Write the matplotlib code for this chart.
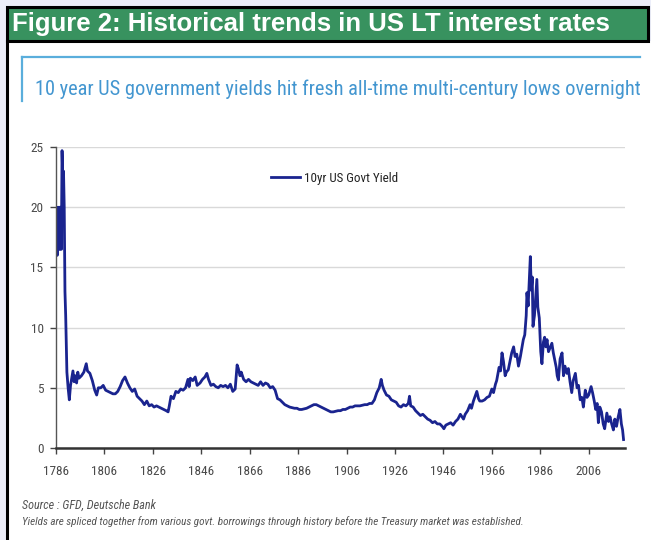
import matplotlib
matplotlib.use("Agg")
import matplotlib.pyplot as plt
from matplotlib import font_manager
from matplotlib.patches import Rectangle
from matplotlib.lines import Line2D

# 10yr US government yield (%), spliced history
years = [
    1786.0, 1786.3, 1786.5, 1786.8, 1787.0, 1787.3, 1787.6, 1787.9, 1788.2, 1788.5,
    1788.8, 1789.1, 1789.4, 1789.7, 1790.0, 1790.5, 1791.0, 1791.5, 1792.0, 1792.5,
    1793.0, 1793.5, 1794.0, 1794.5, 1795.0, 1795.5, 1796.5, 1797.5, 1798.5, 1799.0,
    1800.0, 1801.0, 1802.0, 1802.8, 1803.5, 1804.5, 1805.5, 1806.5, 1807.5, 1808.5,
    1809.5, 1810.5, 1811.5, 1812.5, 1813.5, 1814.5, 1815.5, 1816.5, 1817.5, 1818.5,
    1819.5, 1820.5, 1821.5, 1822.5, 1823.5, 1824.5, 1825.5, 1826.5, 1827.5, 1828.5,
    1829.5, 1830.5, 1831.5, 1832.3, 1832.8, 1833.5, 1834.5, 1835.5, 1836.5, 1837.5,
    1838.5, 1839.5, 1840.5, 1841.0, 1841.5, 1842.5, 1843.5, 1844.3, 1845.5, 1846.5,
    1847.5, 1848.3, 1849.0, 1850.0, 1851.0, 1852.0, 1853.0, 1854.0, 1855.0, 1856.0,
    1857.0, 1858.0, 1859.0, 1860.0, 1860.8, 1861.3, 1862.0, 1862.5, 1863.5, 1864.5,
    1865.5, 1866.5, 1867.5, 1868.5, 1869.5, 1870.5, 1871.5, 1872.5, 1873.5, 1874.5,
    1875.5, 1876.5, 1877.5, 1878.5, 1879.5, 1880.5, 1881.5, 1882.5, 1883.5, 1884.5,
    1885.5, 1886.5, 1887.5, 1888.5, 1889.5, 1890.5, 1891.5, 1892.5, 1893.5, 1894.5,
    1895.5, 1896.5, 1897.5, 1898.5, 1899.5, 1900.5, 1901.5, 1902.5, 1903.5, 1904.5,
    1905.5, 1906.5, 1907.5, 1908.5, 1909.5, 1910.5, 1911.5, 1912.5, 1913.5, 1914.5,
    1915.5, 1916.5, 1917.5, 1918.5, 1919.5, 1920.3, 1920.8, 1921.5, 1922.5, 1923.5,
    1924.5, 1925.5, 1926.5, 1927.5, 1928.5, 1929.5, 1930.5, 1931.5, 1932.0, 1932.5,
    1933.5, 1934.5, 1935.5, 1936.5, 1937.5, 1938.5, 1939.5, 1940.5, 1941.5, 1942.5,
    1943.5, 1944.5, 1945.5, 1946.2, 1947.0, 1948.0, 1949.0, 1950.0, 1951.0, 1952.0,
    1953.0, 1954.3, 1955.0, 1956.0, 1957.0, 1957.6, 1958.4, 1959.8, 1960.5, 1961.0,
    1962.0, 1963.0, 1964.0, 1965.0, 1966.0, 1966.7, 1967.5, 1968.0, 1969.0, 1969.6,
    1970.2, 1970.8, 1971.5, 1972.0, 1972.8, 1973.5, 1974.2, 1975.0, 1975.6, 1976.3,
    1977.0, 1977.8, 1978.5, 1979.0, 1979.6, 1980.2, 1980.5, 1981.0, 1981.5, 1981.9,
    1982.3, 1982.7, 1983.0, 1983.6, 1984.2, 1984.6, 1985.0, 1985.6, 1986.2, 1986.7,
    1987.3, 1987.8, 1988.3, 1988.8, 1989.4, 1990.0, 1990.8, 1991.4, 1992.0, 1992.6,
    1993.0, 1993.5, 1994.2, 1995.0, 1995.6, 1996.2, 1997.0, 1997.6, 1998.3, 1999.0,
    1999.6, 2000.5, 2001.2, 2001.8, 2002.5, 2003.2, 2003.8, 2004.6, 2005.3, 2006.0,
    2007.0, 2007.6, 2008.3, 2008.9, 2009.5, 2010.0, 2010.6, 2011.3, 2012.0, 2012.6,
    2013.5, 2014.2, 2014.8, 2015.5, 2016.2, 2016.8, 2017.5, 2018.2, 2018.9, 2019.5,
    2020.0, 2020.4,
]
yields = [
    18.0, 20.0, 16.0, 20.0, 16.5, 20.0, 16.5, 20.0, 16.5, 24.7,
    22.5, 23.0, 20.0, 13.0, 11.0, 6.3, 5.0, 4.0, 5.2, 5.8,
    6.4, 5.5, 6.0, 5.4, 6.3, 5.8, 6.0, 6.3, 7.0, 6.4,
    6.2, 5.6, 4.8, 4.4, 5.0, 5.0, 5.2, 4.8, 4.7, 4.6,
    4.5, 4.5, 4.7, 5.1, 5.6, 5.9, 5.4, 5.0, 4.7, 4.9,
    4.3, 4.1, 3.9, 3.6, 3.9, 3.5, 3.6, 3.4, 3.5, 3.4,
    3.3, 3.2, 3.1, 3.0, 3.5, 4.3, 4.1, 4.7, 4.6, 4.9,
    4.8, 5.0, 5.7, 5.1, 5.8, 5.6, 5.9, 5.2, 5.4, 5.7,
    5.9, 6.2, 5.7, 5.2, 5.3, 5.1, 5.0, 5.2, 5.1, 5.2,
    5.0, 5.3, 4.7, 4.9, 6.9, 6.6, 6.0, 6.3, 5.7, 5.5,
    5.7, 5.5, 5.4, 5.3, 5.2, 5.5, 5.2, 5.4, 5.3, 5.0,
    5.1, 4.8, 4.1, 4.0, 3.8, 3.6, 3.5, 3.4, 3.35, 3.3,
    3.3, 3.2, 3.2, 3.25, 3.3, 3.4, 3.5, 3.6, 3.6, 3.5,
    3.4, 3.3, 3.2, 3.1, 3.0, 3.0, 3.05, 3.1, 3.1, 3.2,
    3.2, 3.3, 3.4, 3.4, 3.5, 3.5, 3.5, 3.55, 3.6, 3.6,
    3.7, 3.7, 4.0, 4.6, 5.0, 5.7, 5.2, 4.8, 4.4, 4.3,
    4.0, 3.9, 3.8, 3.5, 3.4, 3.6, 3.5, 3.7, 4.3, 3.5,
    3.4, 3.1, 2.9, 2.7, 2.8, 2.6, 2.4, 2.3, 2.1, 2.2,
    2.0, 2.0, 1.8, 1.6, 1.9, 2.0, 2.1, 1.9, 2.2, 2.4,
    2.8, 2.4, 2.8, 3.1, 3.6, 3.3, 3.9, 4.7, 4.1, 3.9,
    3.9, 4.0, 4.2, 4.3, 4.9, 4.6, 5.3, 5.6, 6.7, 6.4,
    7.9, 7.2, 6.0, 6.3, 6.5, 7.2, 7.9, 8.4, 7.6, 7.8,
    6.8, 7.6, 8.4, 9.0, 9.4, 11.0, 12.9, 11.8, 14.0, 15.9,
    13.1, 14.2, 10.1, 11.0, 12.8, 14.0, 11.7, 10.8, 8.0, 7.0,
    8.8, 9.2, 8.4, 9.0, 8.0, 8.3, 8.7, 7.9, 7.3, 6.7,
    6.0, 5.65, 7.4, 7.9, 6.0, 6.8, 6.2, 6.6, 5.5, 4.6,
    5.6, 6.2, 5.0, 5.2, 4.0, 4.2, 3.4, 4.8, 4.2, 4.4,
    5.1, 4.6, 3.9, 3.2, 3.7, 2.1, 3.4, 3.0, 2.0, 1.6,
    2.9, 2.2, 2.6, 2.0, 1.5, 2.4, 1.8, 2.6, 3.2, 2.0,
    1.5, 0.7,
]

x_ticks = list(range(1786, 2007, 20))
y_ticks = [0, 5, 10, 15, 20, 25]

header = "Figure 2: Historical trends in US LT interest rates"
subtitle = "10 year US government yields hit fresh all-time multi-century lows overnight"
source_1 = "Source : GFD, Deutsche Bank"
source_2 = ("Yields are spliced together from various govt. borrowings through history "
            "before the Treasury market was established.")

# prefer a condensed face for the chart text
names = {f.name for f in font_manager.fontManager.ttflist}
narrow = dict(family="DejaVu Sans", stretch="condensed")
for cand in ("Liberation Sans Narrow", "Arial Narrow", "Roboto Condensed", "Open Sans Condensed"):
    if cand in names:
        narrow = dict(family=cand)
        break

W, H = 651, 540
fig = plt.figure(figsize=(W / 100, H / 100), dpi=100, facecolor="#eceef9")


def fx(px):
    return px / W


def fy(py):
    return 1 - py / H


def fit_width(txt, width_px):
    # shrink/grow a text so that it spans the given number of pixels
    r = fig.canvas.get_renderer()
    for _ in range(4):
        w = txt.get_window_extent(renderer=r).width
        txt.set_fontsize(txt.get_fontsize() * width_px / w)


# panel, header bar and frame
fig.patches.append(Rectangle((fx(7), 0), 1 - fx(7), fy(41), transform=fig.transFigure,
                             facecolor="white", edgecolor="none", zorder=-5))
fig.patches.append(Rectangle((fx(7), fy(41)), fx(641), fy(7) - fy(41), transform=fig.transFigure,
                             facecolor="#38925f", edgecolor="black", linewidth=2.2, zorder=-4))
fig.lines.append(Line2D([fx(7), fx(7)], [0, fy(41)], transform=fig.transFigure,
                        color="black", linewidth=2.2, zorder=-3))
t_head = fig.text(fx(12), fy(24), header, color="white", fontsize=18.5, fontweight="bold",
                  family="Liberation Sans", va="center", ha="left")
fit_width(t_head, 600)

# subtitle box
fig.lines.append(Line2D([fx(22), fx(640)], [fy(57), fy(57)], transform=fig.transFigure,
                        color="#5aaedc", linewidth=1.6, zorder=-3))
fig.lines.append(Line2D([fx(22), fx(22)], [fy(57), fy(101)], transform=fig.transFigure,
                        color="#5aaedc", linewidth=1.6, zorder=-3))
t_sub = fig.text(fx(35), fy(89), subtitle, color="#4396d0", fontsize=14, va="center",
                 ha="left", **narrow)
fit_width(t_sub, 604)

ax = fig.add_axes([fx(56), fy(448), fx(625) - fx(56), fy(147) - fy(448)])
ax.plot(years, yields, color="#1a248f", linewidth=2.0, label="10yr US Govt Yield")
ax.set_xlim(1786, 2021)
ax.set_ylim(0, 25)
ax.set_xticks(x_ticks)
ax.set_yticks(y_ticks)
ax.yaxis.grid(True, color="#d9d9d9", linewidth=1.0)
ax.set_axisbelow(True)
for side in ("top", "right"):
    ax.spines[side].set_visible(False)
ax.spines["left"].set_color("#555555")
ax.spines["left"].set_linewidth(1.0)
ax.spines["bottom"].set_color("#333333")
ax.spines["bottom"].set_linewidth(1.8)
ax.tick_params(axis="both", direction="out", length=4, width=1.0, color="#444444",
               labelcolor="#4a4a4a")
ax.tick_params(axis="x", pad=8)
ax.tick_params(axis="y", pad=5)
for lab in ax.get_xticklabels() + ax.get_yticklabels():
    lab.set_fontproperties(font_manager.FontProperties(size=9.5, **narrow))

leg = ax.legend(loc="center left", bbox_to_anchor=(0.378, 0.897), frameon=False,
                handlelength=2.2, handletextpad=0.3, borderpad=0, borderaxespad=0,
                prop=font_manager.FontProperties(size=9.4, **narrow))
for t in leg.get_texts():
    t.set_color("#222222")

t_src1 = fig.text(fx(22), fy(505), source_1, color="#555555", fontsize=7.5, style="italic",
                  va="center", ha="left", **narrow)
t_src2 = fig.text(fx(22), fy(522), source_2, color="#555555", fontsize=7.5, style="italic",
                  va="center", ha="left", **narrow)
fit_width(t_src1, 134)
fit_width(t_src2, 502)

fig.savefig("out.png", dpi=100, facecolor=fig.get_facecolor())
